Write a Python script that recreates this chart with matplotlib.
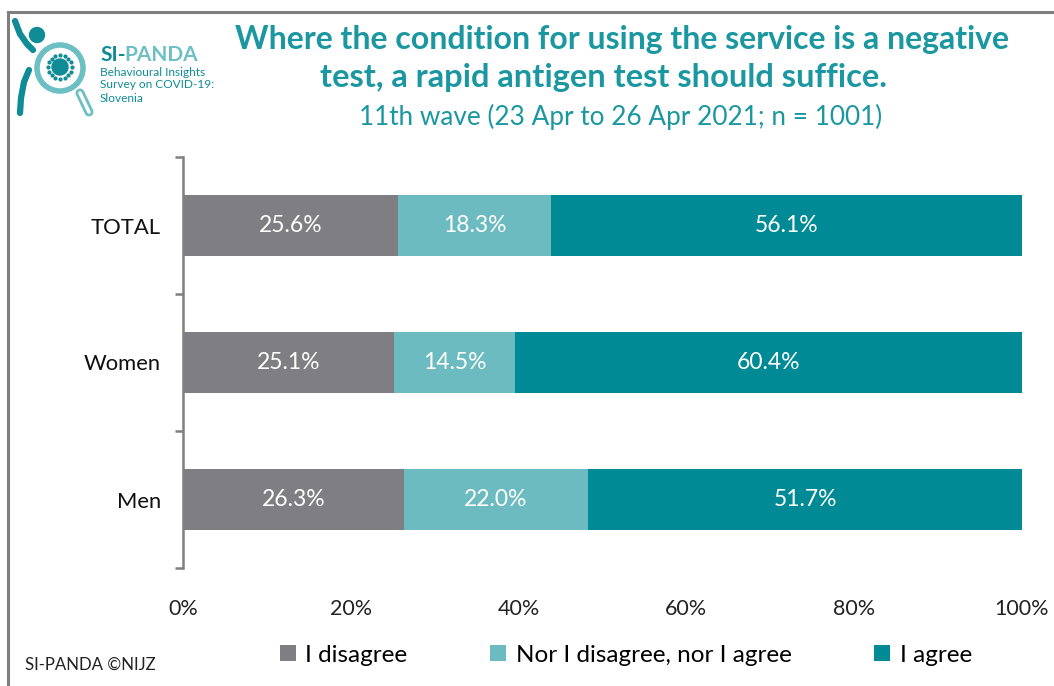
import numpy as np
import matplotlib.pyplot as plt
from matplotlib.patches import Circle
from matplotlib.lines import Line2D

plt.rcParams['font.family'] = ['Lato', 'DejaVu Sans']

# survey results (percent)
groups = ["TOTAL", "Women", "Men"]
disagree = [25.6, 25.1, 26.3]
neutral = [18.3, 14.5, 22.0]
agree = [56.1, 60.4, 51.7]
series_names = ["I disagree", "Nor I disagree, nor I agree", "I agree"]
x_ticks = [0, 20, 40, 60, 80, 100]

colors = ["#7f7f83", "#6cbbc0", "#008a95"]
title_color = "#1a97a0"

fig = plt.figure(figsize=(10.54, 6.86), dpi=100)
W, H = 1054, 686

def fx(px):
    return px / W

def fy(py):
    return 1 - py / H

# outer frame (left and top edges only)
fig.add_artist(Line2D([fx(8), fx(8)], [fy(12), 0], color="#7f7f7f", lw=2.2))
fig.add_artist(Line2D([fx(8), 1], [fy(12), fy(12)], color="#7f7f7f", lw=2.2))

ax = fig.add_axes([fx(183), fy(568), fx(1022) - fx(183), fy(157) - fy(568)])

y = np.arange(len(groups))
h = 0.445
left = np.zeros(len(groups))
for vals, name, c in zip([disagree, neutral, agree], series_names, colors):
    vals = np.array(vals)
    ax.barh(y, vals, left=left, height=h, color=c, label=name)
    for yi, l, v in zip(y, left, vals):
        ax.text(l + v / 2, yi, f"{v:.1f}%", ha="center", va="center",
                color="white", fontsize=16.5)
    left = left + vals

ax.set_xlim(0, 100)
ax.set_ylim(len(groups) - 0.5, -0.5)
ax.set_yticks(y)
ax.set_yticklabels(groups, fontsize=15.8, color="#111111")
ax.set_yticks(np.arange(len(groups) + 1) - 0.5, minor=True)
ax.tick_params(axis="y", which="major", length=0, pad=16)
ax.tick_params(axis="y", which="minor", length=6, width=1.8, color="#7f7f7f")
ax.set_xticks(x_ticks)
ax.set_xticklabels([f"{t}%" for t in x_ticks], fontsize=15.5, color="#222222")
ax.tick_params(axis="x", length=0, pad=22)
for s in ["top", "right", "bottom"]:
    ax.spines[s].set_visible(False)
ax.spines["left"].set_color("#7f7f7f")
ax.spines["left"].set_linewidth(1.8)

handles, labels = ax.get_legend_handles_labels()
fig.legend(handles, labels, loc="center", bbox_to_anchor=(fx(626), fy(655)),
           ncol=3, frameon=False, fontsize=17.5, handlelength=0.65,
           handleheight=0.65, handletextpad=0.4, columnspacing=3.4)

# titles
fig.text(fx(622), fy(40), "Where the condition for using the service is a negative",
         ha="center", va="center", fontsize=23, fontweight="bold", color=title_color)
fig.text(fx(603), fy(78), "test, a rapid antigen test should suffice.",
         ha="center", va="center", fontsize=23.5, fontweight="bold", color=title_color)
fig.text(fx(621), fy(117), "11th wave (23 Apr to 26 Apr 2021; n = 1001)",
         ha="center", va="center", fontsize=18.8, color=title_color)

fig.text(fx(25), fy(665), "SI-PANDA \u00a9NIJZ", ha="left", va="center",
         fontsize=12.1, color="#222222")

# logo
dark = "#0f8c96"
light = "#6cc0c4"
lax = fig.add_axes([0, fy(125), fx(240), fy(0) - fy(125)])
lax.set_xlim(0, 240)
lax.set_ylim(125, 0)
lax.set_aspect("equal")
lax.axis("off")
lax.add_patch(Circle((60, 68), 23, fill=False, ec=light, lw=4))
lax.plot([80, 89], [93, 112], color=light, lw=6.5, solid_capstyle="round")
lax.plot([80, 89], [93, 112], color="white", lw=2.5, solid_capstyle="round")
lax.add_patch(Circle((60, 67), 8, color=dark))
ang = np.linspace(0, 2 * np.pi, 16, endpoint=False)
lax.scatter(60 + 12 * np.cos(ang), 67 + 12 * np.sin(ang), s=4, color=dark)
lax.add_patch(Circle((37, 35), 7.5, color=dark))
lax.plot([15, 20, 27, 33], [21, 34, 44, 50], color=dark, lw=4.5, solid_capstyle="round")
lax.plot([29, 24, 21, 20], [70, 82, 98, 113], color=dark, lw=4.5, solid_capstyle="round")
lax.text(100, 55, "SI-", fontsize=15, fontweight="bold", color=dark, va="center")
lax.text(124, 55, "PANDA", fontsize=15, fontweight="bold", color=light, va="center")
lax.text(100, 72, "Behavioural Insights", fontsize=8.6, color=dark, va="center")
lax.text(100, 85, "Survey on COVID-19:", fontsize=8.6, color=dark, va="center")
lax.text(100, 98, "Slovenia", fontsize=8.6, color=dark, va="center")

fig.savefig("out.png", dpi=100)
